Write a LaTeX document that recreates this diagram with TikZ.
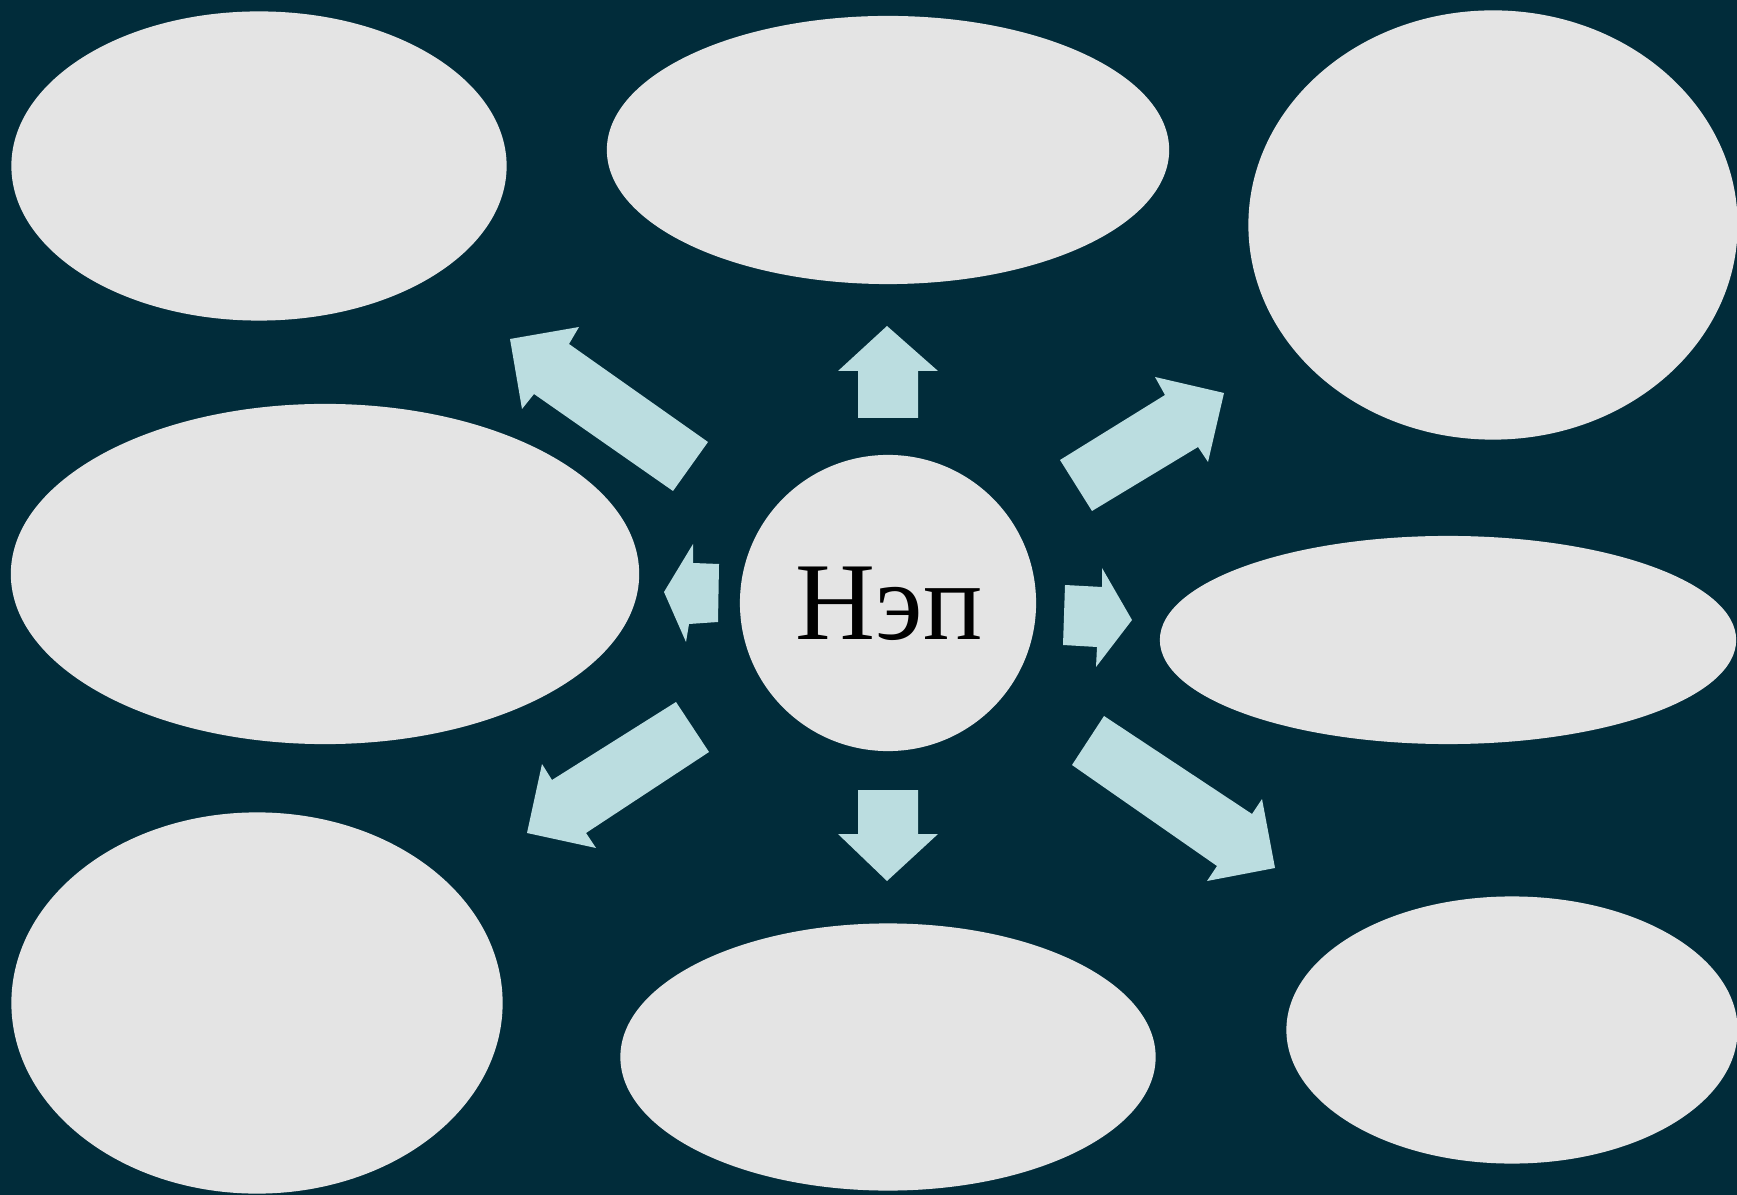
\documentclass[tikz,border=0pt]{standalone}
\usepackage{fontspec}
\setmainfont{Liberation Serif}
\usepackage{xcolor}
\usetikzlibrary{shapes.geometric}
\definecolor{bgteal}{RGB}{1,44,58}
\definecolor{paper}{RGB}{228,228,228}
\definecolor{pale}{RGB}{187,221,224}

\begin{document}
\begin{tikzpicture}[x=0.01cm, y=-0.01cm, bub/.style = {ellipse, fill=paper, inner sep=0pt}, main/.style = {circle, fill=paper, inner sep=0pt, minimum size=2.96cm}, arr/.style = {fill=pale}]
        \useasboundingbox (0,0) rectangle (1737,1195);
        \fill[bgteal] (0,0) rectangle (1737,1195);
        \node[bub, minimum width=4.95cm, minimum height=3.09cm] (1) at (259,166) {};
        \node[bub, minimum width=5.62cm, minimum height=2.68cm] (2) at (888,150) {};
        \node[bub, minimum width=4.89cm, minimum height=4.29cm] (3) at (1493,225) {};
        \node[bub, minimum width=6.28cm, minimum height=3.40cm] (4) at (325,574) {};
        \node[bub, minimum width=5.76cm, minimum height=2.08cm] (5) at (1448,640) {};
        \node[bub, minimum width=4.91cm, minimum height=3.81cm] (6) at (257,1003) {};
        \node[bub, minimum width=5.35cm, minimum height=2.67cm] (7) at (888,1057) {};
        \node[bub, minimum width=4.51cm, minimum height=2.67cm] (8) at (1512,1030) {};
        \node[main] (0) at (888,603) {};
        \node[font=\fontsize{31.5}{34}\selectfont] (t) at (889,604) {Нэп};
        % arrows
        \fill[arr] (887,326) -- (938,371) -- (918,371) -- (918,418) -- (858,418) -- (858,371) -- (838,371) -- cycle;
        \fill[arr] (887,881) -- (938,834) -- (918,834) -- (918,790) -- (858,790) -- (858,834) -- (838,834) -- cycle;
        \fill[arr] (510,339) -- (579,327) -- (569,344) -- (708,442) -- (673,491) -- (534,394) -- (522,409) -- cycle;
        \fill[arr] (1224,393) -- (1155,377) -- (1165,395) -- (1060,460) -- (1092,511) -- (1198,447) -- (1208,462) -- cycle;
        \fill[arr] (527,833) -- (542,764) -- (552,780) -- (676,702) -- (709,752) -- (586,833) -- (596,848) -- cycle;
        \fill[arr] (1275,868) -- (1262,799) -- (1252,814) -- (1104,716) -- (1072,765) -- (1217,866) -- (1207,881) -- cycle;
        \fill[arr] (664,592) -- (693,544) -- (693,563) -- (719,564) -- (718,622) -- (689,624) -- (686,642) -- cycle;
        \fill[arr] (1132,620) -- (1102,568) -- (1102,587) -- (1065,585) -- (1063,645) -- (1097,647) -- (1096,667) -- cycle;
\end{tikzpicture}
\end{document}
